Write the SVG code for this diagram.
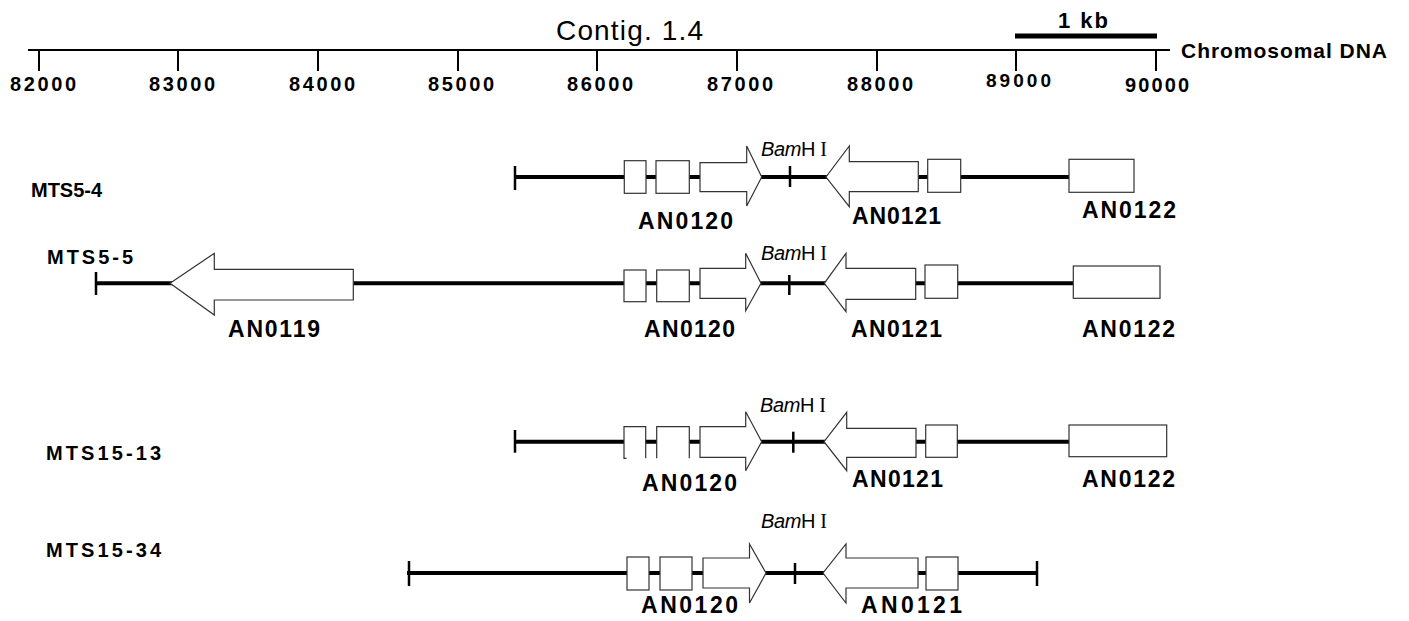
<svg xmlns="http://www.w3.org/2000/svg" width="1409" height="621" viewBox="0 0 1409 621">
<style>
text{font-family:"Liberation Sans",Arial,sans-serif;fill:#000}
.tick{font-size:20px;font-weight:bold}
.row{font-size:20px;font-weight:bold}
.gene{font-size:23px;font-weight:bold}
.bam{font-size:20px}
.dna{stroke:#000;stroke-width:4;fill:none}
.end{stroke:#000;stroke-width:2.5;fill:none}
.shape{fill:#fff;stroke:#333;stroke-width:1.2}
.rule{stroke:#000;stroke-width:2;fill:none}
</style>
<rect width="1409" height="621" fill="#fff"/>

<g id="ruler">
<line class="rule" x1="28" y1="50" x2="1170" y2="50"/>
<path class="rule" d="M39,50V71M178,50V71M318,50V71M458,50V71M597,50V71M737,50V71M877,50V71M1016,50V71M1156,50V71"/>
<text class="tick" x="10" y="91" textLength="66">82000</text>
<text class="tick" x="149" y="91" textLength="66">83000</text>
<text class="tick" x="289" y="91" textLength="66">84000</text>
<text class="tick" x="428" y="91" textLength="66">85000</text>
<text class="tick" x="567" y="91" textLength="66">86000</text>
<text class="tick" x="707" y="91" textLength="66">87000</text>
<text class="tick" x="847" y="91" textLength="66">88000</text>
<text class="tick" x="986" y="87" textLength="65" style="font-size:19px">89000</text>
<text class="tick" x="1125" y="92" textLength="64">90000</text>
<text x="556" y="40" textLength="147" style="font-size:28px">Contig. 1.4</text>
<line x1="1015" y1="36" x2="1157" y2="36" stroke="#000" stroke-width="5"/>
<text x="1058" y="28" textLength="50" style="font-size:22px;font-weight:bold">1 kb</text>
<text x="1181" y="58" textLength="206" style="font-size:21px;font-weight:bold">Chromosomal DNA</text>
</g>

<g id="connectors">
<path class="dna" d="M515,177H1069"/>
<path class="dna" d="M96,283.3H1073"/>
<path class="dna" d="M515,441.7H1069"/>
<path class="dna" d="M407,573H1037"/>
</g>

<g id="MTS5-4">
<text class="row" x="31" y="197" textLength="71">MTS5-4</text>
<line class="end" x1="515" y1="166" x2="515" y2="190"/>
<rect class="shape" x="624.3" y="160.7" width="21.7" height="32.6"/>
<rect class="shape" x="656" y="160.7" width="33.3" height="32.6"/>
<polygon class="shape" points="700,162.7 746.7,162.7 746.7,146 761.7,177 746.7,206 746.7,191.7 700,191.7"/>
<line class="end" x1="790" y1="166" x2="790" y2="187"/>
<polygon class="shape" points="918.3,161.7 849.3,161.7 849.3,146 826,177 849.3,206.7 849.3,191.7 918.3,191.7"/>
<rect class="shape" x="927.7" y="159.3" width="33" height="33"/>
<rect class="shape" x="1069" y="159.3" width="65" height="33"/>
<text class="bam" x="761" y="156" textLength="66"><tspan font-style="italic">Bam</tspan>H <tspan style="font-family:'Liberation Serif',serif">I</tspan></text>
<text class="gene" x="638" y="229" textLength="95">AN0120</text>
<text class="gene" x="852" y="224" textLength="89">AN0121</text>
<text class="gene" x="1082" y="218" textLength="94">AN0122</text>
</g>

<g id="MTS5-5">
<text class="row" x="47" y="264" textLength="86">MTS5-5</text>
<line class="end" x1="96" y1="272" x2="96" y2="295"/>
<polygon class="shape" points="353.3,269.3 214.3,269.3 214.3,253.3 170,283.3 214.3,315 214.3,300 353.3,300"/>
<rect class="shape" x="624" y="270" width="22" height="31.7"/>
<rect class="shape" x="656.7" y="270" width="32.6" height="31.7"/>
<polygon class="shape" points="700,268.3 745.7,268.3 745.7,253.3 761,283.3 745.7,310.7 745.7,298.3 700,298.3"/>
<line class="end" x1="789.3" y1="275" x2="789.3" y2="295"/>
<polygon class="shape" points="915.7,268.3 846,268.3 846,253.3 824.3,283.3 846,311.7 846,299.3 915.7,299.3"/>
<rect class="shape" x="925" y="265" width="32.7" height="33.3"/>
<rect class="shape" x="1073.3" y="266" width="86.7" height="32.3"/>
<text class="bam" x="761" y="260" textLength="66"><tspan font-style="italic">Bam</tspan>H <tspan style="font-family:'Liberation Serif',serif">I</tspan></text>
<text class="gene" x="228" y="337" textLength="92">AN0119</text>
<text class="gene" x="644" y="337" textLength="91">AN0120</text>
<text class="gene" x="851" y="337" textLength="91">AN0121</text>
<text class="gene" x="1082" y="337" textLength="93">AN0122</text>
</g>

<g id="MTS15-13">
<text class="row" x="46" y="460" textLength="115">MTS15-13</text>
<line class="end" x1="515" y1="430" x2="515" y2="452.7"/>
<rect x="624" y="426.7" width="21.7" height="31.6" fill="#fff"/>
<path d="M626.5,458.3H624V426.7H645.7V458.3" fill="none" stroke="#333" stroke-width="1.2"/>
<rect x="656.7" y="426.7" width="32.6" height="31.6" fill="#fff"/>
<path d="M656.7,458.3V426.7H689.3V458.3" fill="none" stroke="#333" stroke-width="1.2"/>
<polygon class="shape" points="700,426.7 745.7,426.7 745.7,411.7 761.7,441.7 745.7,470.7 745.7,457.3 700,457.3"/>
<line class="end" x1="793.3" y1="431.7" x2="793.3" y2="452.7"/>
<polygon class="shape" points="916,428.3 846.7,428.3 846.7,412.3 824,441.7 846.7,470.7 846.7,457.3 916,457.3"/>
<rect class="shape" x="925.7" y="425" width="31.6" height="32.3"/>
<rect class="shape" x="1069" y="425" width="97.7" height="31.7"/>
<text class="bam" x="760" y="411.7" textLength="66"><tspan font-style="italic">Bam</tspan>H <tspan style="font-family:'Liberation Serif',serif">I</tspan></text>
<text class="gene" x="642" y="491" textLength="95">AN0120</text>
<text class="gene" x="852" y="487" textLength="91">AN0121</text>
<text class="gene" x="1082" y="487" textLength="93">AN0122</text>
</g>

<g id="MTS15-34">
<text class="row" x="46" y="557" textLength="115">MTS15-34</text>
<line class="end" x1="409" y1="561" x2="409" y2="586"/>
<line class="end" x1="1037" y1="561" x2="1037" y2="586"/>
<rect class="shape" x="627" y="557" width="22" height="33"/>
<rect class="shape" x="660" y="557" width="32" height="33"/>
<polygon class="shape" points="703,558 749.5,558 749.5,544 766,573 749.5,603 749.5,588 703,588"/>
<line class="end" x1="795" y1="563" x2="795" y2="584"/>
<polygon class="shape" points="918,558 846,558 846,544 823,573 846,603 846,588 918,588"/>
<rect class="shape" x="926" y="557" width="32" height="33"/>
<text class="bam" x="761" y="528" textLength="66"><tspan font-style="italic">Bam</tspan>H <tspan style="font-family:'Liberation Serif',serif">I</tspan></text>
<text class="gene" x="641" y="613" textLength="97">AN0120</text>
<text class="gene" x="861" y="613" textLength="101">AN0121</text>
</g>
</svg>
